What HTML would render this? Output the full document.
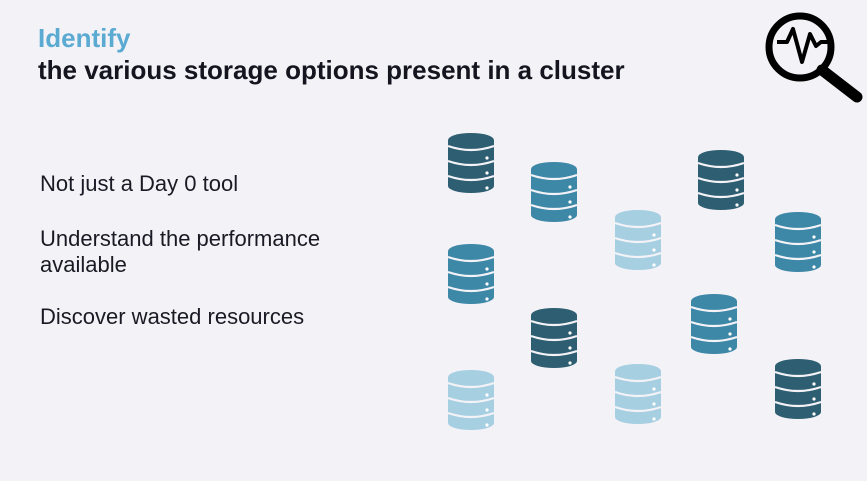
<!DOCTYPE html>
<html><head><style>
body{margin:0;width:867px;height:481px;background:#f3f2f7;font-family:"Liberation Sans",sans-serif;position:relative;overflow:hidden}
.t{position:absolute;left:38px;font-weight:bold;font-size:26px;white-space:nowrap;line-height:30px}
.b{position:absolute;left:40px;font-size:22px;color:#1a1a24;line-height:26px;white-space:nowrap}
svg.db{position:absolute;width:46px;height:60px}
</style></head><body>
<div class="t" style="top:23px;color:#5aaad2">Identify</div>
<div class="t" style="top:55px;color:#15151f">the various storage options present in a cluster</div>
<div class="b" style="top:171px">Not just a Day 0 tool</div>
<div class="b" style="top:226px">Understand the performance<br>available</div>
<div class="b" style="top:304px">Discover wasted resources</div>
<svg width="0" height="0" style="position:absolute"><defs><g id="d">
<rect x="0" y="7" width="46" height="46"/><ellipse cx="23" cy="7" rx="23" ry="7"/><ellipse cx="23" cy="53" rx="23" ry="7"/>
<path d="M0,13 Q23,21 46,13 M0,28 Q23,36 46,28 M0,43 Q23,51 46,43" stroke="#f3f2f7" stroke-width="2.2" fill="none"/>
<circle cx="39" cy="25" r="1.6" fill="#fff"/><circle cx="39" cy="40" r="1.6" fill="#fff"/><circle cx="39" cy="55" r="1.6" fill="#fff"/>
</g></defs></svg>
<svg class="db" style="left:448px;top:133px" fill="#2e5e71"><use href="#d"/></svg>
<svg class="db" style="left:531px;top:162px" fill="#3d87a7"><use href="#d"/></svg>
<svg class="db" style="left:615px;top:210px" fill="#a7cfe2"><use href="#d"/></svg>
<svg class="db" style="left:698px;top:150px" fill="#2e5e71"><use href="#d"/></svg>
<svg class="db" style="left:775px;top:212px" fill="#3d87a7"><use href="#d"/></svg>
<svg class="db" style="left:448px;top:244px" fill="#3d87a7"><use href="#d"/></svg>
<svg class="db" style="left:531px;top:308px" fill="#2e5e71"><use href="#d"/></svg>
<svg class="db" style="left:691px;top:294px" fill="#3d87a7"><use href="#d"/></svg>
<svg class="db" style="left:448px;top:370px" fill="#a7cfe2"><use href="#d"/></svg>
<svg class="db" style="left:615px;top:364px" fill="#a7cfe2"><use href="#d"/></svg>
<svg class="db" style="left:775px;top:359px" fill="#2e5e71"><use href="#d"/></svg>
<svg style="position:absolute;left:760px;top:10px" width="107" height="100">
<circle cx="40" cy="37" r="31" fill="none" stroke="#000" stroke-width="7"/>
<line x1="62" y1="60" x2="97" y2="87" stroke="#000" stroke-width="11" stroke-linecap="round"/>
<polyline points="17,32 27,32 33,19 42,52 50,24 56,36 61,32 70,32" fill="none" stroke="#000" stroke-width="4" stroke-linejoin="round"/>
</svg>
</body></html>
